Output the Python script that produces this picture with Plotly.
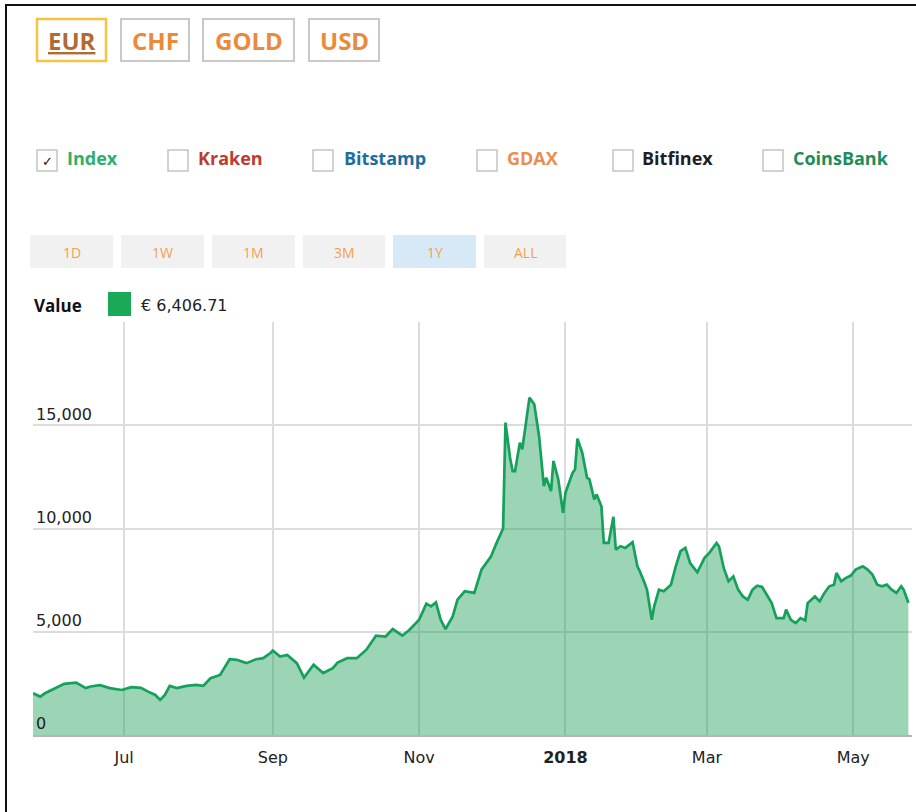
import plotly.graph_objects as go

# ---------------- data ----------------
dates = [
    "2017-05-24", "2017-05-27", "2017-05-29", "2017-06-02", "2017-06-06", "2017-06-11",
    "2017-06-15", "2017-06-17", "2017-06-21", "2017-06-25", "2017-06-30", "2017-07-04",
    "2017-07-08", "2017-07-11", "2017-07-14", "2017-07-16", "2017-07-18", "2017-07-20",
    "2017-07-23", "2017-07-27", "2017-07-31", "2017-08-03", "2017-08-06", "2017-08-10",
    "2017-08-14", "2017-08-17", "2017-08-21", "2017-08-25", "2017-08-28", "2017-08-31",
    "2017-09-01", "2017-09-04", "2017-09-07", "2017-09-11", "2017-09-14", "2017-09-18",
    "2017-09-22", "2017-09-26", "2017-09-28", "2017-10-02", "2017-10-06", "2017-10-10",
    "2017-10-14", "2017-10-18", "2017-10-21", "2017-10-25", "2017-10-28", "2017-11-01",
    "2017-11-04", "2017-11-06", "2017-11-08", "2017-11-10", "2017-11-12", "2017-11-15",
    "2017-11-17", "2017-11-20", "2017-11-24", "2017-11-27", "2017-12-01", "2017-12-03",
    "2017-12-06", "2017-12-07", "2017-12-09", "2017-12-10", "2017-12-11", "2017-12-13",
    "2017-12-14", "2017-12-17", "2017-12-19", "2017-12-21", "2017-12-23", "2017-12-24",
    "2017-12-26", "2017-12-27", "2017-12-29", "2017-12-31", "2018-01-01", "2018-01-04",
    "2018-01-05", "2018-01-06", "2018-01-08", "2018-01-10", "2018-01-11", "2018-01-13",
    "2018-01-14", "2018-01-16", "2018-01-17", "2018-01-19", "2018-01-21", "2018-01-22",
    "2018-01-24", "2018-01-26", "2018-01-29", "2018-01-31", "2018-02-01", "2018-02-03",
    "2018-02-04", "2018-02-06", "2018-02-07", "2018-02-09", "2018-02-11", "2018-02-14",
    "2018-02-16", "2018-02-18", "2018-02-20", "2018-02-22", "2018-02-25", "2018-02-28",
    "2018-03-02", "2018-03-05", "2018-03-06", "2018-03-08", "2018-03-10", "2018-03-12",
    "2018-03-14", "2018-03-16", "2018-03-18", "2018-03-20", "2018-03-22", "2018-03-24",
    "2018-03-26", "2018-03-28", "2018-03-30", "2018-04-02", "2018-04-03", "2018-04-05",
    "2018-04-07", "2018-04-09", "2018-04-11", "2018-04-12", "2018-04-15", "2018-04-17",
    "2018-04-19", "2018-04-21", "2018-04-23", "2018-04-24", "2018-04-26", "2018-04-28",
    "2018-04-30", "2018-05-02", "2018-05-05", "2018-05-07", "2018-05-09", "2018-05-11",
    "2018-05-13", "2018-05-15", "2018-05-17", "2018-05-19", "2018-05-21", "2018-05-22",
    "2018-05-24",
]
values = [
    2020, 1860, 2020, 2270, 2480, 2540,
    2270, 2350, 2410, 2270, 2180, 2320,
    2280, 2100, 1940, 1700, 1940, 2380,
    2270, 2380, 2430, 2380, 2750, 2910,
    3670, 3640, 3480, 3670, 3720, 3970,
    4090, 3800, 3880, 3480, 2780, 3400,
    3000, 3240, 3510, 3720, 3720, 4130,
    4810, 4770, 5130, 4810, 5100, 5580,
    6360, 6230, 6420, 5580, 5130, 5740,
    6550, 6960, 6880, 8010, 8650, 9220,
    10000, 15130, 13350, 12780, 12780, 14160,
    13830, 16340, 16020, 14480, 12050, 12460,
    11810, 13270, 12380, 10760, 11730, 12700,
    12860, 14350, 13670, 12460, 12380, 11410,
    11650, 11080, 9300, 9300, 10570, 8980,
    9140, 9060, 9340, 8170, 7930, 7360,
    7040, 5580, 6230, 7040, 6960, 7280,
    8170, 8900, 9060, 8330, 7880, 8580,
    8820, 9300, 9140, 8090, 7440, 7680,
    7040, 6710, 6550, 7040, 7230, 7170,
    6800, 6390, 5660, 5660, 6070, 5580,
    5420, 5660, 5550, 6390, 6710, 6470,
    6880, 7200, 7280, 7850, 7440, 7610,
    7720, 8010, 8170, 8010, 7770, 7280,
    7200, 7280, 7040, 6880, 7200, 7040,
    6406.71,
]
x_tick_vals = ["2017-07-01", "2017-09-01", "2017-11-01", "2018-01-01", "2018-03-01", "2018-05-01"]
x_tick_text = ["Jul", "Sep", "Nov", "<b>2018</b>", "Mar", "May"]
y_tick_vals = [0, 5000, 10000, 15000, 20000]
y_tick_text = ["0", "5,000", "10,000", "15,000", ""]

currencies = ["EUR", "CHF", "GOLD", "USD"]
exchanges = ["Index", "Kraken", "Bitstamp", "GDAX", "Bitfinex", "CoinsBank"]
ranges = ["1D", "1W", "1M", "3M", "1Y", "ALL"]
current_value_text = "€ 6,406.71"

# ---------------- layout helpers (pixel -> paper) ----------------
W, H = 916, 812
L, R, T, B = 33, 4, 322, 77
PW, PH = W - L - R, H - T - B


def px(x):
    return (x - L) / PW


def py(y):
    return (H - B - y) / PH


shapes = []
annotations = []

# outer frame (left + top edges visible)
shapes.append(dict(type="line", xref="paper", yref="paper", x0=px(6), x1=px(6), y0=py(4), y1=py(812),
                   line=dict(color="#111", width=2)))
shapes.append(dict(type="line", xref="paper", yref="paper", x0=px(6), x1=px(916), y0=py(5), y1=py(5),
                   line=dict(color="#111", width=2)))

# currency buttons
cur_boxes = [(37, 106), (121, 189), (203, 294), (309, 379)]
for i, (name, (x0, x1)) in enumerate(zip(currencies, cur_boxes)):
    active = i == 0
    shapes.append(dict(type="rect", xref="paper", yref="paper", x0=px(x0), x1=px(x1), y0=py(61), y1=py(19),
                       line=dict(color="#f6c443" if active else "#c9c9c9", width=2.5 if active else 2),
                       fillcolor="white"))
    annotations.append(dict(xref="paper", yref="paper", x=px((x0 + x1) / 2), y=py(40),
                            text=f"<u>{name}</u>" if active else name, showarrow=False,
                            xanchor="center", yanchor="middle",
                            font=dict(family="Open Sans", size=24, weight="bold",
                                      color="#b26a34" if active else "#ea8a3a")))

# exchange checkboxes
ex_colors = ["#2fae6c", "#c0392d", "#1b6e9e", "#ea8d4f", "#1e1e1e", "#1e8c57"]
ex_box_x = [37, 168, 313, 477, 613, 763]
ex_text_x = [65, 196, 342, 505, 640, 791]
for name, col, bx, tx in zip(exchanges, ex_colors, ex_box_x, ex_text_x):
    shapes.append(dict(type="rect", xref="paper", yref="paper", x0=px(bx), x1=px(bx + 20), y0=py(171), y1=py(150),
                       line=dict(color="#c4c4c4", width=1.5), fillcolor="white"))
    annotations.append(dict(xref="paper", yref="paper", x=px(tx), y=py(158), text=name, showarrow=False,
                            xanchor="left", yanchor="middle",
                            font=dict(family="Open Sans", size=18, weight="bold", color=col)))
annotations.append(dict(xref="paper", yref="paper", x=px(47), y=py(162), text="✓", showarrow=False,
                        xanchor="center", yanchor="middle",
                        font=dict(family="DejaVu Sans", size=13, weight="bold", color="#111")))

# range buttons
rng_boxes = [(30, 113), (121, 204), (212, 295), (303, 385), (393, 476), (484, 566)]
for name, (x0, x1) in zip(ranges, rng_boxes):
    active = name == "1Y"
    shapes.append(dict(type="rect", xref="paper", yref="paper", x0=px(x0), x1=px(x1), y0=py(268), y1=py(235),
                       line=dict(width=0), fillcolor="#d7e9f6" if active else "#f1f1f1"))
    annotations.append(dict(xref="paper", yref="paper", x=px((x0 + x1) / 2), y=py(252), text=name,
                            showarrow=False, xanchor="center", yanchor="middle",
                            font=dict(family="Open Sans", size=14, color="#f2a050")))

# value label
annotations.append(dict(xref="paper", yref="paper", x=px(32), y=py(305), text="Value", showarrow=False,
                        xanchor="left", yanchor="middle",
                        font=dict(family="Open Sans", size=17, weight="bold", color="#111")))
shapes.append(dict(type="rect", xref="paper", yref="paper", x0=px(108), x1=px(131), y0=py(316), y1=py(292),
                   line=dict(width=0), fillcolor="#19a957"))
annotations.append(dict(xref="paper", yref="paper", x=px(139), y=py(305), text=current_value_text,
                        showarrow=False, xanchor="left", yanchor="middle",
                        font=dict(family="DejaVu Sans", size=16, color="#222")))

# ---------------- figure ----------------
fig = go.Figure()
fig.add_trace(go.Scatter(
    x=dates, y=values, mode="lines",
    line=dict(color="#15a05b", width=2.7),
    fill="tozeroy", fillcolor="rgba(20,155,80,0.42)",
    hoverinfo="skip",
))

fig.update_layout(
    width=W, height=H,
    margin=dict(l=L, r=R, t=T, b=B),
    paper_bgcolor="white", plot_bgcolor="white",
    showlegend=False,
    shapes=shapes, annotations=annotations,
    xaxis=dict(
        range=["2017-05-24", "2018-05-25 12:00"],
        tickvals=x_tick_vals, ticktext=x_tick_text,
        showgrid=True, gridcolor="#dcdcdc", gridwidth=1.5,
        showline=True, linecolor="#b5b5b5", linewidth=2,
        ticks="", ticklabelstandoff=7,
        tickfont=dict(family="DejaVu Sans", size=16, color="#222"),
        zeroline=False,
    ),
    yaxis=dict(
        range=[0, 20000],
        tickvals=y_tick_vals, ticktext=y_tick_text,
        ticklabelposition="inside top",
        showgrid=True, gridcolor="#dcdcdc", gridwidth=1.5,
        zeroline=False, ticks="",
        tickfont=dict(family="DejaVu Sans", size=16, color="#222"),
    ),
)

fig.write_html("out.html")
